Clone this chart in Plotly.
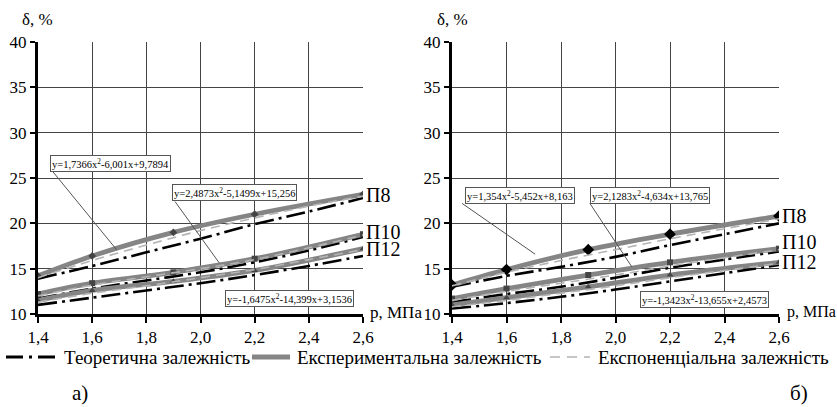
import plotly.graph_objects as go

# ---------------- data ----------------
P_EXP = [1.4, 1.6, 1.9, 2.2, 2.6]                  # experimental points
P_FIT = [1.4, 1.6, 1.8, 2.0, 2.2, 2.4, 2.6]        # theoretical / exponential curves
X_TICKS = [1.4, 1.6, 1.8, 2.0, 2.2, 2.4, 2.6]
X_TICK_LABELS = ["1,4", "1,6", "1,8", "2,0", "2,2", "2,4", "2,6"]
Y_TICKS = [10, 15, 20, 25, 30, 35, 40]
Y_TICK_LABELS = ["10", "15", "20", "25", "30", "35", "40"]
SERIES_NAMES = ["П8", "П10", "П12"]

# a)
A_EXP = {
    "П8":  [14.2, 16.4, 19.0, 21.0, 23.2],
    "П10": [12.2, 13.4, 14.6, 16.1, 18.8],
    "П12": [11.5, 12.6, 13.6, 14.8, 17.2],
}
A_THEOR = {
    "П8":  [13.9, 15.3, 16.8, 18.3, 19.9, 21.3, 22.8],
    "П10": [11.7, 12.8, 13.7, 14.6, 15.7, 17.0, 18.5],
    "П12": [11.0, 11.8, 12.6, 13.4, 14.3, 15.3, 16.4],
}
A_EXPO = {
    "П8":  [14.0, 15.9, 17.6, 19.2, 20.6, 21.9, 23.0],
    "П10": [12.0, 13.2, 14.1, 15.0, 16.0, 17.3, 18.7],
    "П12": [11.3, 12.3, 13.1, 14.0, 14.9, 16.0, 17.1],
}
A_EQS = ["y=1,7366x<sup>2</sup>-6,001x+9,7894",
         "y=2,4873x<sup>2</sup>-5,1499x+15,256",
         "y=-1,6475x<sup>2</sup>-14,399x+3,1536"]

# б)
B_EXP = {
    "П8":  [13.2, 14.9, 17.1, 18.8, 20.8],
    "П10": [11.7, 12.8, 14.3, 15.7, 17.2],
    "П12": [11.0, 11.8, 13.0, 14.3, 15.7],
}
B_THEOR = {
    "П8":  [13.0, 14.2, 15.2, 16.3, 17.6, 18.8, 20.0],
    "П10": [11.3, 12.2, 13.0, 14.0, 15.1, 16.0, 16.9],
    "П12": [10.6, 11.2, 11.9, 12.7, 13.6, 14.5, 15.4],
}
B_EXPO = {
    "П8":  [13.1, 14.6, 15.9, 17.1, 18.3, 19.4, 20.5],
    "П10": [11.5, 12.5, 13.4, 14.3, 15.3, 16.2, 17.1],
    "П12": [10.8, 11.5, 12.3, 13.1, 14.0, 14.8, 15.6],
}
B_EQS = ["y=1,354x<sup>2</sup>-5,452x+8,163",
         "y=2,1283x<sup>2</sup>-4,634x+13,765",
         "y=-1,3423x<sup>2</sup>-13,655x+2,4573"]

LEGEND_TEXT = ["Теоретична залежність", "Експериментальна залежність", "Експоненціальна залежність"]

# ---------------- style ----------------
W, H = 837, 407
FONT = "'Liberation Serif', 'Times New Roman', Times, serif"
THEOR_DASH = "19px,5px,3px,5px"
EXPO_DASH = "9px,6px"
EXP_COLOR = "#858585"
EXPO_COLOR = "#b4b4b4"
MARKERS = {"П8": "diamond", "П10": "square", "П12": "triangle-up"}

def px(x):
    return x / W

def py(y):
    return 1 - y / H

fig = go.Figure()

def add_panel(xa, ya, exp, theor, expo, big_marker):
    for name in SERIES_NAMES:
        fig.add_trace(go.Scatter(x=P_FIT, y=theor[name], mode="lines", xaxis=xa, yaxis=ya,
                                 line=dict(color="black", width=2.6, dash=THEOR_DASH, shape="spline"),
                                 showlegend=False))
    for name in SERIES_NAMES:
        msize = 9 if (big_marker and name == "П8") else 6
        mcol = "black" if (big_marker and name == "П8") else "#444"
        fig.add_trace(go.Scatter(x=P_EXP, y=exp[name], mode="lines+markers", xaxis=xa, yaxis=ya,
                                 line=dict(color=EXP_COLOR, width=4.8, shape="spline"),
                                 marker=dict(symbol=MARKERS[name], size=msize, color=mcol),
                                 showlegend=False))
    for name in SERIES_NAMES:
        fig.add_trace(go.Scatter(x=P_FIT, y=expo[name], mode="lines", xaxis=xa, yaxis=ya,
                                 line=dict(color=EXPO_COLOR, width=1.6, dash=EXPO_DASH, shape="spline"),
                                 showlegend=False))

add_panel("x", "y", A_EXP, A_THEOR, A_EXPO, False)
add_panel("x2", "y2", B_EXP, B_THEOR, B_EXPO, True)

axis_common_x = dict(range=[1.4, 2.6], tickvals=X_TICKS, ticktext=X_TICK_LABELS, automargin=False,
                     showgrid=True, gridcolor="#444", gridwidth=1.2,
                     showline=True, linecolor="black", linewidth=3,
                     ticks="outside", ticklen=6, tickwidth=2, tickcolor="black",
                     tickfont=dict(family=FONT, size=17, color="black"), zeroline=False)
axis_common_y = dict(range=[10, 40], tickvals=Y_TICKS, ticktext=Y_TICK_LABELS, automargin=False,
                     showgrid=True, gridcolor="#444", gridwidth=1.2,
                     showline=True, linecolor="black", linewidth=3,
                     ticks="outside", ticklen=5, tickwidth=2, tickcolor="black",
                     tickfont=dict(family=FONT, size=17, color="black"), zeroline=False)

y_dom = [py(314), py(42)]
fig.update_layout(
    width=W, height=H, margin=dict(l=0, r=0, t=0, b=0),
    plot_bgcolor="white", paper_bgcolor="white", showlegend=False,
    font=dict(family=FONT, color="black"),
    xaxis=dict(domain=[px(38), px(363)], anchor="y", **axis_common_x),
    yaxis=dict(domain=y_dom, anchor="x", **axis_common_y),
    xaxis2=dict(domain=[px(452), px(779)], anchor="y2", **axis_common_x),
    yaxis2=dict(domain=y_dom, anchor="x2", **axis_common_y),
)

annotations = []
shapes = []

def txt(x, y, text, size=17, xanchor="left", xref="paper", yref="paper"):
    annotations.append(dict(x=x, y=y, xref=xref, yref=yref, text=text, showarrow=False,
                            xanchor=xanchor, yanchor="middle", borderpad=0,
                            font=dict(family=FONT, size=size, color="black")))

# axis titles
txt(px(21), py(20), "δ, %", 17)
txt(px(436), py(20), "δ, %", 17)
txt(px(369), py(312), "p, МПа", 17)
txt(px(786), py(312), "p, МПа", 16)

# curve labels
for (xr, yr, ys) in [("x", "y", [23.1, 19.0, 17.2]), ("x2", "y2", [20.8, 17.9, 15.7])]:
    for name, yv in zip(SERIES_NAMES, ys):
        annotations.append(dict(x=2.6, y=yv, xref=xr, yref=yr, text=name, showarrow=False,
                                xanchor="left", yanchor="middle", xshift=2, borderpad=0,
                                font=dict(family=FONT, size=20, color="black")))

# equation boxes (x, y in data coords) + leader lines
def eqbox(xr, yr, x, y, text):
    annotations.append(dict(x=x, y=y, xref=xr, yref=yr, text=text, showarrow=False,
                            xanchor="center", yanchor="middle",
                            bgcolor="white", bordercolor="#555", borderwidth=1, borderpad=1,
                            font=dict(family=FONT, size=10.5, color="black")))

def leader(xr, yr, x0, y0, x1, y1):
    shapes.append(dict(type="line", xref=xr, yref=yr, x0=x0, y0=y0, x1=x1, y1=y1,
                       line=dict(color="#555", width=1)))

leader("x", "y", 1.452, 25.8, 1.69, 17.1)
leader("x", "y", 1.906, 22.4, 2.07, 15.6)
eqbox("x", "y", 1.666, 26.65, A_EQS[0])
eqbox("x", "y", 2.127, 23.35, A_EQS[1])
eqbox("x", "y", 2.33, 11.75, A_EQS[2])

leader("x2", "y2", 1.437, 22.2, 1.705, 16.6)
leader("x2", "y2", 1.906, 22.2, 2.06, 15.2)
eqbox("x2", "y2", 1.651, 23.07, B_EQS[0])
eqbox("x2", "y2", 2.125, 23.07, B_EQS[1])
eqbox("x2", "y2", 2.325, 11.55, B_EQS[2])

# legend (drawn manually)
LEG_Y = 357
LEG_FS = 19
shapes.append(dict(type="line", xref="paper", yref="paper", x0=px(6), x1=px(57), y0=py(LEG_Y), y1=py(LEG_Y),
                   line=dict(color="black", width=3, dash="17px,6px,3px,6px")))
txt(px(63), py(LEG_Y), LEGEND_TEXT[0], LEG_FS)
shapes.append(dict(type="line", xref="paper", yref="paper", x0=px(252), x1=px(290), y0=py(LEG_Y), y1=py(LEG_Y),
                   line=dict(color=EXP_COLOR, width=4.8)))
txt(px(296), py(LEG_Y), LEGEND_TEXT[1], LEG_FS)
shapes.append(dict(type="line", xref="paper", yref="paper", x0=px(550), x1=px(590), y0=py(LEG_Y), y1=py(LEG_Y),
                   line=dict(color=EXPO_COLOR, width=1.6, dash="10px,7px")))
txt(px(597), py(LEG_Y), LEGEND_TEXT[2], LEG_FS)

# panel labels
txt(px(80), py(393), "а)", 21, xanchor="center")
txt(px(799), py(393), "б)", 21, xanchor="center")

fig.update_layout(annotations=annotations, shapes=shapes)
fig.write_html("out.html", config={"displayModeBar": False},
               post_script="document.body.style.margin='0px';document.body.style.overflow='hidden';")
